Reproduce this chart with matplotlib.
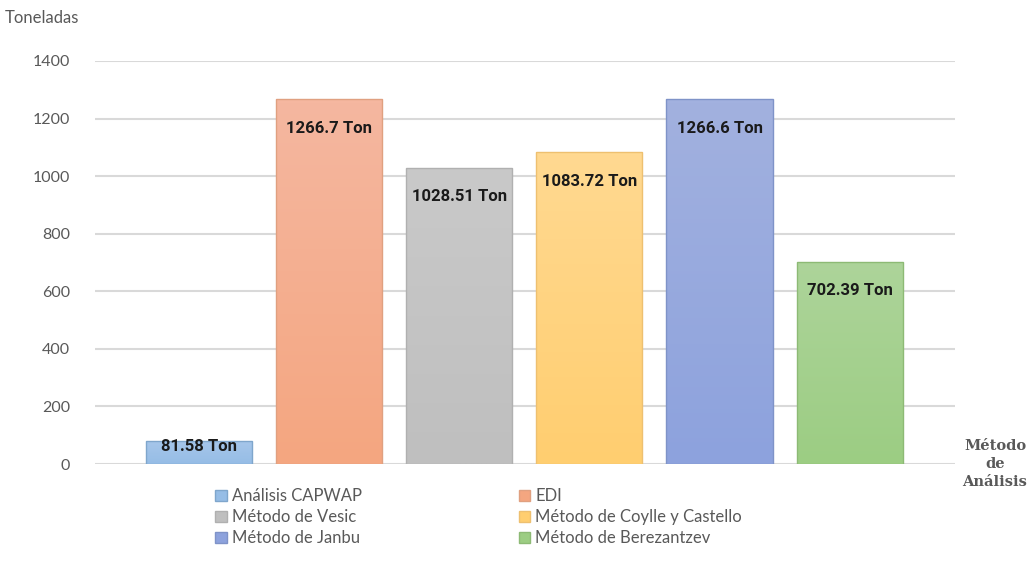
import numpy as np
import matplotlib.pyplot as plt
from matplotlib.patches import Patch
from matplotlib.colors import LinearSegmentedColormap

metodos = ["Análisis CAPWAP", "EDI", "Método de Vesic",
           "Método de Coylle y Castello", "Método de Janbu", "Método de Berezantzev"]
cargas = [81.58, 1266.7, 1028.51, 1083.72, 1266.6, 702.39]
etiquetas = ["81.58 Ton", "1266.7 Ton", "1028.51 Ton", "1083.72 Ton", "1266.6 Ton", "702.39 Ton"]
color_arriba = ["#A6C6EA", "#F5B7A0", "#C9C9C9", "#FFD991", "#A2B1DF", "#ADD49A"]
color_abajo = ["#96BDE6", "#F4A680", "#BFBFBF", "#FFCE70", "#8DA2DD", "#9CCD83"]
bordes = ["#7FA6CC", "#E0A080", "#B0B0B0", "#EEC070", "#7F93C8", "#8DBA75"]
ticks_y = [0, 200, 400, 600, 800, 1000, 1200, 1400]

gris = "#595959"
fuente = ["Lato", "DejaVu Sans"]

fig = plt.figure(figsize=(10.36, 5.72), dpi=100)
ax = fig.add_axes([95 / 1036, 1 - 464 / 572, 860 / 1036, 403 / 572])

x = np.arange(len(cargas))
barras = ax.bar(x, cargas, width=0.815, color="none", edgecolor=bordes,
                linewidth=1.0, zorder=4)

# relleno degradado de cada barra, recortado a su rectángulo
for b, c1, c2 in zip(barras, color_arriba, color_abajo):
    cmap = LinearSegmentedColormap.from_list("g", [c2, c1])
    x0, y0 = b.get_x(), b.get_y()
    w, h = b.get_width(), b.get_height()
    grad = np.linspace(0, 1, 100).reshape(-1, 1)
    im = ax.imshow(grad, cmap=cmap, extent=[x0, x0 + w, y0, y0 + h],
                   origin="lower", aspect="auto", zorder=3)
    im.set_clip_path(b)

for xi, v, txt in zip(x, cargas, etiquetas):
    desplaz = -6 if v < 200 else -29
    ax.annotate(txt, (xi, v), xytext=(0, desplaz), textcoords="offset pixels",
                ha="center", va="center", fontsize=12, fontweight="bold",
                family=["Roboto", "DejaVu Sans"], color="#1a1a1a", zorder=5)

ax.set_xlim(-0.8, 5.81)
ax.set_ylim(0, 1400)
ax.set_yticks(ticks_y)
ax.set_yticklabels([str(t) for t in ticks_y], family=fuente, fontsize=11.5, color=gris)
ax.tick_params(axis="y", length=0, pad=18)
ax.set_xticks([])
ax.grid(axis="y", color="#D9D9D9", linewidth=1.5, zorder=0)
for s in ax.spines.values():
    s.set_visible(False)

fig.text(5 / 1036, 1 - 18 / 572, "Toneladas", family=fuente, fontsize=12,
         color=gris, va="center", ha="left")
fig.text(995 / 1036, 1 - 464 / 572, "Método\nde\nAnálisis", family=["DejaVu Serif"],
         fontsize=10.5, fontweight="bold", color=gris, ha="center", va="center",
         linespacing=1.35)

# la leyenda se llena por columnas: se reordena para leer por filas
orden = [0, 2, 4, 1, 3, 5]
manejadores = [Patch(facecolor=color_abajo[i], edgecolor=bordes[i]) for i in orden]
fig.legend(manejadores, [metodos[i] for i in orden], ncol=2, loc="upper left",
           bbox_to_anchor=(207 / 1036, 1 - 480 / 572), frameon=False,
           prop={"family": fuente, "size": 12}, labelcolor=gris,
           handlelength=0.7, handleheight=0.7, handletextpad=0.3,
           columnspacing=9.4, labelspacing=0.3, borderpad=0)

fig.savefig("out.png", dpi=100)
